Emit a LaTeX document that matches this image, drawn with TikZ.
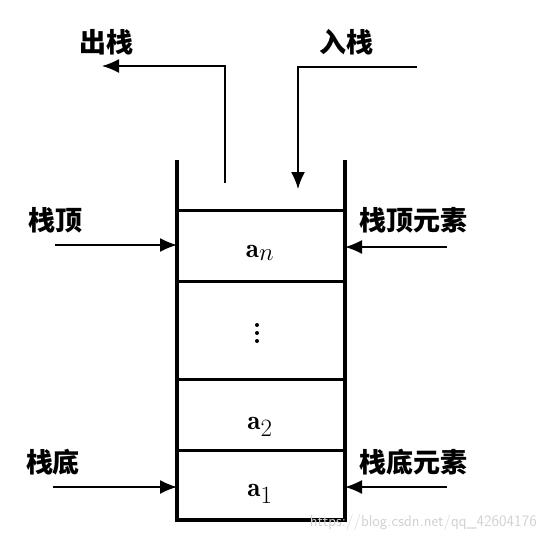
\documentclass[tikz,border=0pt]{standalone}
\usepackage{fontspec}
\newfontfamily\cjk{Noto Sans CJK SC}
\usetikzlibrary{arrows.meta}
\begin{document}
\begin{tikzpicture}[x=1pt,y=-1pt,
  wall/.style={line width=3.2pt},
  divider/.style={line width=3pt},
  ptr/.style={line width=1.6pt,-{Latex[length=17pt,width=14pt]}},
  lbl/.style={font=\cjk\bfseries\fontsize{27}{30}\selectfont,inner sep=0pt},
  elem/.style={font=\fontsize{27}{30}\selectfont,inner sep=0pt},
  dot/.style={circle,fill,inner sep=0pt,minimum size=4pt}]
\useasboundingbox (0,0) rectangle (539,541);
% stack walls
\draw[wall] (177,160) -- (177,520) -- (345,520) -- (345,160);
\foreach \y in {210,281,379,450} \draw[divider] (177,\y) -- (345,\y);
% elements
\node[elem] (an) at (260,253) {$\mathbf{a}_{\textstyle n}$};
\node[dot] (d1) at (257,325) {};
\node[dot] (d2) at (257,333) {};
\node[dot] (d3) at (257,341) {};
\node[elem] (a2) at (260,427) {$\mathbf{a}_{\textstyle 2}$};
\node[elem] (a1) at (260,494) {$\mathbf{a}_{\textstyle 1}$};
% labels
\node[lbl] (out) at (106,42) {出栈};
\node[lbl] (in) at (346,42) {入栈};
\node[lbl] (top) at (55,220) {栈顶};
\node[lbl] (topel) at (413,220) {栈顶元素};
\node[lbl] (bot) at (53,462) {栈底};
\node[lbl] (botel) at (413,462) {栈底元素};
% coordinates
\coordinate (outS) at (225,183);
\coordinate (outC) at (225,66);
\coordinate (outE) at (102,66);
\coordinate (inS) at (417,67);
\coordinate (inC) at (298,67);
\coordinate (inE) at (298,189);
\coordinate (topS) at (55,245);
\coordinate (topE) at (177,245);
\coordinate (topelS) at (447,247);
\coordinate (topelE) at (345,247);
\coordinate (botS) at (53,487);
\coordinate (botE) at (177,487);
\coordinate (botelS) at (447,487);
\coordinate (botelE) at (345,487);
% connectors
\draw[ptr] (outS) -- (outC) -- (outE);
\draw[ptr] (inS) -- (inC) -- (inE);
\draw[ptr] (topS) -- (topE);
\draw[ptr] (topelS) -- (topelE);
\draw[ptr] (botS) -- (botE);
\draw[ptr] (botelS) -- (botelE);
% watermark
\node[font=\sffamily\fontsize{16}{18}\selectfont,text=gray!35,anchor=east,inner sep=0pt] (wm) at (537,522) {https://blog.csdn.net/qq\_42604176};
\end{tikzpicture}
\end{document}
